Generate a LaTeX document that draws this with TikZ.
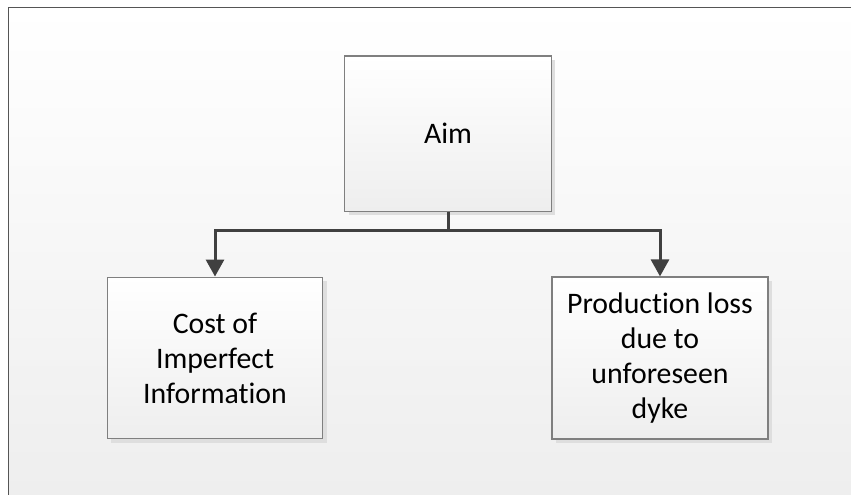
\documentclass[tikz,border=0pt]{standalone}
\usepackage{fontspec}
\setmainfont{Carlito}[RawFeature={-liga}]
\usetikzlibrary{arrows.meta,shadows}
\definecolor{linec}{HTML}{404040}
\definecolor{boxborder}{HTML}{7F7F7F}
\definecolor{bgbottom}{HTML}{EEEEEE}
\definecolor{frame}{HTML}{555555}
\tikzset{
  box/.style={draw=boxborder, line width=1.2pt, top color=white, bottom color=bgbottom,
    align=center, inner sep=4pt, font=\fontsize{29.8}{35}\selectfont,
    drop shadow={shadow xshift=4pt, shadow yshift=-4pt, fill=black!13, opacity=1}},
  conn/.style={draw=linec, line width=3pt},
  arr/.style={conn, -{Triangle[width=18pt,length=17pt]}}
}
\begin{document}
\begin{tikzpicture}[x=1pt,y=1pt]
\useasboundingbox (0,0) rectangle (851,495);
\fill[white] (0,0) rectangle (851,495);
\shade[top color=white, bottom color=bgbottom] (8.5,0) rectangle (851,487.5);
\draw[frame, line width=1.5pt] (8.5,-2) -- (8.5,487.5) -- (853,487.5);
\node[box, minimum width=206.6pt, minimum height=155.3pt] (aim) at (448,361.4) {Aim};
\node[box, minimum width=215.4pt, minimum height=161.7pt] (cost) at (215,137) {Cost of\\Imperfect\\Information};
\node[box, minimum width=216pt, minimum height=162pt] (prod) at (660,137) {Production loss\\due to\\unforeseen\\dyke};
\draw[conn] (aim.south) -- ++(0,-18.2) coordinate (j);
\draw[arr] (j) -| (cost.north);
\draw[arr] (j) -| (prod.north);
\end{tikzpicture}
\end{document}
